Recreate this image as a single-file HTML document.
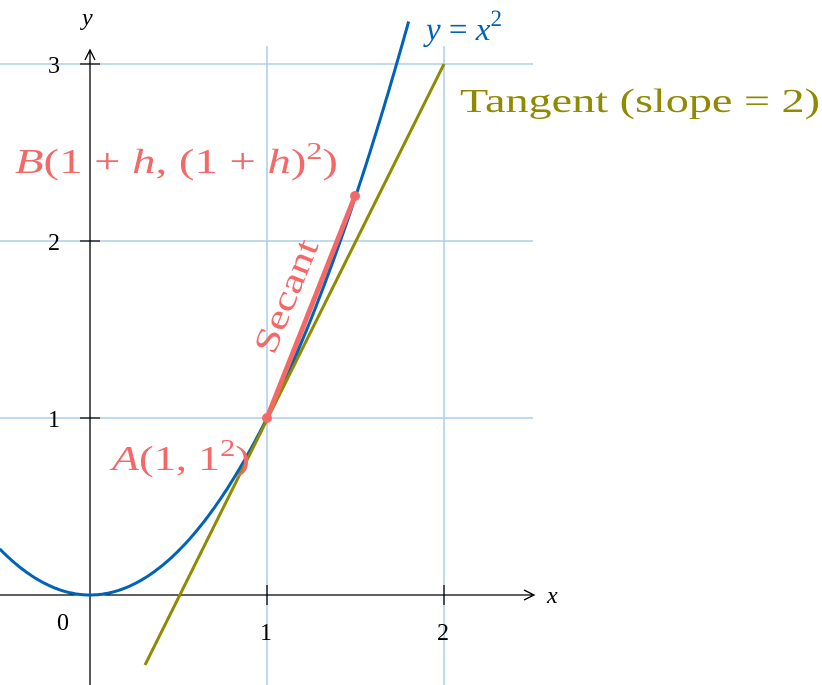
<!DOCTYPE html>
<html><head><style>
html,body{margin:0;padding:0;background:#fff;}
svg{display:block;}
text{font-family:"Liberation Serif",serif;}
</style></head><body>
<svg width="822" height="685" viewBox="0 0 822 685" xmlns="http://www.w3.org/2000/svg">
<g stroke="#a9cde8" stroke-width="1.5">
<line x1="267" y1="46" x2="267" y2="685"/>
<line x1="444" y1="46" x2="444" y2="685"/>
<line x1="0" y1="64" x2="533" y2="64"/>
<line x1="0" y1="241" x2="533" y2="241"/>
<line x1="0" y1="418" x2="533" y2="418"/>
</g>
<g stroke="#000" stroke-width="1.3">
<line x1="0" y1="595" x2="532" y2="595"/>
<line x1="90" y1="685" x2="90" y2="50"/>
<line x1="80" y1="64" x2="100" y2="64"/>
<line x1="80" y1="241" x2="100" y2="241"/>
<line x1="80" y1="418" x2="100" y2="418"/>
<line x1="267" y1="585" x2="267" y2="605"/>
<line x1="444" y1="585" x2="444" y2="605"/>
</g>
<path d="M524,590 L534,595 L524,600" fill="none" stroke="#000" stroke-width="1.3"/>
<path d="M85,60 L90,50 L95,60" fill="none" stroke="#000" stroke-width="1.3"/>
<path id="par" fill="none" stroke="#0062b8" stroke-width="3" d=""/>
<line x1="145" y1="665" x2="444" y2="64" stroke="#8f8a00" stroke-width="3"/>
<line x1="267" y1="418" x2="355" y2="196" stroke="#f46868" stroke-width="5"/>
<circle cx="267" cy="418" r="5" fill="#f46868"/>
<circle cx="355" cy="196" r="5" fill="#f46868"/>
<g font-size="24" fill="#000">
<text x="48" y="73">3</text>
<text x="48" y="250">2</text>
<text x="48" y="427">1</text>
<text x="57" y="630">0</text>
<text x="260" y="640">1</text>
<text x="437" y="640">2</text>
<text x="547" y="603" font-style="italic">x</text>
<text x="82" y="25" font-style="italic">y</text>
</g>
<text x="426" y="40" font-size="33" fill="#0062b8"><tspan font-style="italic">y</tspan> = <tspan font-style="italic">x</tspan><tspan dy="-14" font-size="23">2</tspan></text>
<text x="460" y="112" font-size="34" fill="#8f8a00" textLength="360" lengthAdjust="spacingAndGlyphs">Tangent (slope = 2)</text>
<text x="15" y="173" font-size="35" fill="#f46868" textLength="323" lengthAdjust="spacingAndGlyphs"><tspan font-style="italic">B</tspan>(1 + <tspan font-style="italic">h</tspan>, (1 + <tspan font-style="italic">h</tspan>)<tspan dy="-14" font-size="24">2</tspan><tspan dy="14">)</tspan></text>
<text x="112" y="470" font-size="35" fill="#f46868" textLength="138" lengthAdjust="spacingAndGlyphs"><tspan font-style="italic">A</tspan>(1, 1<tspan dy="-14" font-size="24">2</tspan><tspan dy="14">)</tspan></text>
<text x="0" y="0" font-size="34" fill="#f46868" textLength="120" lengthAdjust="spacingAndGlyphs" transform="translate(274,356) rotate(-68)">Secant</text>
<script>
var d="";for(var i=0;i<=200;i++){var x=-0.51+i*(1.8+0.51)/200;var px=90+177*x,py=595-177*x*x;d+=(i?"L":"M")+px.toFixed(1)+","+py.toFixed(1);}
document.getElementById("par").setAttribute("d",d);
</script>
</svg>
</body></html>
